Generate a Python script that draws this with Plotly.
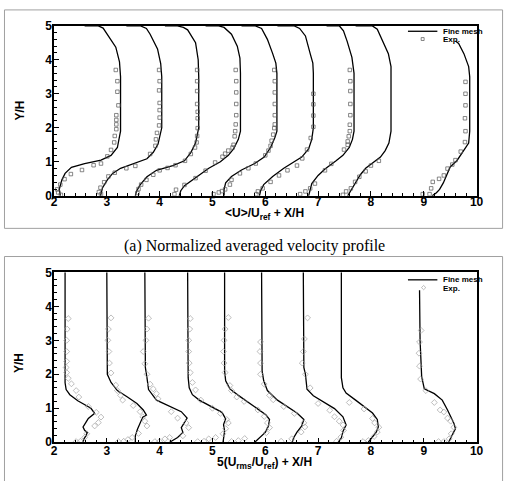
import plotly.graph_objects as go

# ---------------- data: top panel (mean velocity) ----------------
mean_fine_x = [
    [2.58, 2.83, 2.93, 3.01, 3.17, 3.24, 3.26, 3.26, 3.2, 3.08, 2.89, 2.58, 2.33, 2.21, 2.15, 2.1, 2.12],
    [3.37, 3.63, 3.75, 3.82, 3.96, 4.02, 4.04, 4.04, 3.97, 3.88, 3.76, 3.51, 3.26, 3.11, 3.01, 2.92, 2.88],
    [4.1, 4.32, 4.45, 4.53, 4.68, 4.73, 4.74, 4.74, 4.68, 4.59, 4.47, 4.25, 3.94, 3.76, 3.63, 3.56, 3.54],
    [4.87, 5.1, 5.22, 5.36, 5.47, 5.52, 5.53, 5.53, 5.49, 5.4, 5.3, 5.15, 4.93, 4.75, 4.6, 4.47, 4.4, 4.37],
    [5.55, 5.8, 5.93, 6.04, 6.14, 6.2, 6.22, 6.22, 6.18, 6.1, 5.98, 5.8, 5.55, 5.36, 5.25, 5.22, 5.22],
    [6.23, 6.54, 6.65, 6.76, 6.85, 6.9, 6.91, 6.91, 6.88, 6.82, 6.69, 6.54, 6.35, 6.14, 5.97, 5.91, 5.89],
    [7.16, 7.4, 7.48, 7.55, 7.64, 7.68, 7.68, 7.65, 7.59, 7.47, 7.34, 7.13, 7.0, 6.88, 6.82],
    [7.71, 8.02, 8.12, 8.2, 8.33, 8.38, 8.38, 8.34, 8.27, 8.18, 8.02, 7.9, 7.8, 7.68, 7.59, 7.56],
    [9.6, 9.66, 9.76, 9.85, 9.87, 9.87, 9.85, 9.76, 9.63, 9.5, 9.42, 9.37, 9.3, 9.24, 9.16],
]
mean_fine_y = [
    [5, 5, 4.93, 4.75, 4.37, 3.94, 3.5, 1.9, 1.42, 1.19, 1.05, 0.95, 0.84, 0.66, 0.47, 0.19, 0],
    [5, 5, 4.92, 4.75, 4.32, 3.89, 3.5, 2.0, 1.52, 1.28, 1.09, 0.95, 0.81, 0.66, 0.47, 0.24, 0],
    [5, 5, 4.95, 4.88, 4.5, 4.0, 3.5, 2.0, 1.55, 1.27, 1.03, 0.89, 0.75, 0.56, 0.32, 0.13, 0],
    [5, 5, 4.95, 4.75, 4.4, 4.05, 3.6, 1.9, 1.66, 1.38, 1.19, 1.0, 0.81, 0.62, 0.45, 0.3, 0.15, 0],
    [5, 5, 4.92, 4.6, 4.18, 3.9, 3.6, 1.9, 1.71, 1.42, 1.14, 0.95, 0.76, 0.57, 0.38, 0.19, 0],
    [5, 5, 4.92, 4.7, 4.18, 3.9, 3.6, 2.0, 1.66, 1.38, 1.14, 1.0, 0.81, 0.57, 0.33, 0.14, 0],
    [5, 5, 4.85, 4.54, 4.07, 3.6, 1.9, 1.66, 1.42, 1.19, 1.03, 0.79, 0.6, 0.36, 0],
    [5, 5, 4.9, 4.64, 4.18, 3.8, 1.9, 1.55, 1.33, 1.14, 0.95, 0.81, 0.62, 0.33, 0.09, 0],
    [4.55, 4.48, 4.18, 3.8, 3.5, 1.9, 1.55, 1.33, 1.04, 0.85, 0.57, 0.38, 0.19, 0.09, 0],
]
mean_exp_x = [
    [3.17, 3.2, 3.2, 3.22, 3.18, 3.18, 3.18, 3.18, 3.15, 3.14, 3.08, 3.01, 2.89, 2.75, 2.53, 2.32, 2.2, 2.12, 2.06, 2.08, 2.13],
    [3.99, 4.0, 3.99, 4.0, 4.0, 4.0, 3.99, 3.95, 3.93, 3.92, 3.82, 3.54, 3.37, 3.15, 3.03, 2.95, 2.88, 2.85, 2.89],
    [4.71, 4.71, 4.71, 4.71, 4.72, 4.72, 4.72, 4.71, 4.7, 4.67, 4.59, 4.48, 4.3, 4.15, 4.0, 3.88, 3.75, 3.65, 3.6, 3.58],
    [5.44, 5.45, 5.45, 5.45, 5.45, 5.44, 5.43, 5.42, 5.4, 5.38, 5.3, 5.24, 5.19, 5.05, 4.87, 4.68, 4.47, 4.31, 4.28],
    [6.17, 6.18, 6.18, 6.18, 6.18, 6.18, 6.17, 6.15, 6.12, 6.1, 6.06, 6.0, 5.82, 5.68, 5.52, 5.36, 5.33, 5.24, 5.18, 5.12, 5.02],
    [6.91, 6.91, 6.91, 6.91, 6.86, 6.79, 6.7, 6.6, 6.42, 6.26, 6.1, 5.95, 5.86, 5.83],
    [7.6, 7.61, 7.61, 7.61, 7.61, 7.6, 7.6, 7.58, 7.56, 7.56, 7.49, 7.25, 7.13, 6.94, 6.85, 6.76, 6.66],
    [8.15, 8.0, 7.9, 7.78, 7.7, 7.62, 7.53, 7.47],
    [9.79, 9.79, 9.79, 9.78, 9.79, 9.78, 9.7, 9.6, 9.54, 9.45, 9.38, 9.29, 9.17, 9.14, 9.11, 8.98],
]
mean_exp_y = [
    [3.7, 3.37, 3.06, 2.66, 2.37, 2.23, 2.1, 1.96, 1.76, 1.57, 1.35, 1.16, 0.95, 0.9, 0.76, 0.64, 0.49, 0.33, 0.19, 0.1, 0.03],
    [3.7, 3.37, 3.1, 2.73, 2.52, 2.3, 2.07, 1.85, 1.66, 1.47, 1.23, 0.88, 0.81, 0.68, 0.57, 0.4, 0.24, 0.11, 0.05],
    [3.7, 3.37, 3.08, 2.7, 2.47, 2.28, 1.99, 1.76, 1.57, 1.42, 1.23, 1.03, 0.9, 0.82, 0.75, 0.62, 0.47, 0.33, 0.2, 0.08],
    [3.7, 3.37, 3.04, 2.7, 2.37, 2.1, 1.9, 1.75, 1.5, 1.42, 1.33, 1.24, 1.15, 0.98, 0.74, 0.52, 0.32, 0.18, 0.05],
    [3.7, 3.37, 3.04, 2.7, 2.37, 2.1, 1.99, 1.8, 1.62, 1.47, 1.33, 1.19, 0.95, 0.81, 0.66, 0.47, 0.33, 0.19, 0.14, 0.1, 0.05],
    [3.0, 2.69, 2.36, 2.03, 1.7, 1.36, 1.1, 0.89, 0.75, 0.6, 0.41, 0.22, 0.13, 0.05],
    [3.7, 3.37, 3.08, 2.7, 2.37, 2.09, 1.9, 1.75, 1.6, 1.5, 1.36, 0.94, 0.75, 0.36, 0.22, 0.13, 0.05],
    [1.03, 0.89, 0.72, 0.56, 0.41, 0.22, 0.13, 0.03],
    [3.35, 3.0, 2.66, 2.28, 1.9, 1.58, 1.3, 1.05, 0.92, 0.8, 0.6, 0.5, 0.41, 0.22, 0.05, 0.05],
]

# ---------------- data: bottom panel (rms velocity) ----------------
rms_fine_x = [
    [2.21, 2.21, 2.23, 2.3, 2.45, 2.6, 2.7, 2.77, 2.72, 2.65, 2.61, 2.55, 2.58, 2.63, 2.6, 2.56, 2.55],
    [3.0, 3.01, 3.08, 3.2, 3.39, 3.57, 3.69, 3.75, 3.68, 3.63, 3.58, 3.54, 3.54],
    [3.72, 3.73, 3.76, 3.79, 3.94, 4.19, 4.41, 4.52, 4.47, 4.41, 4.44, 4.34, 4.19],
    [4.53, 4.54, 4.56, 4.62, 4.75, 4.99, 5.18, 5.25, 5.21, 5.23, 5.21, 5.2],
    [5.23, 5.23, 5.25, 5.33, 5.49, 5.71, 5.89, 6.01, 6.08, 6.06, 6.0, 5.89, 5.8],
    [5.93, 5.94, 5.97, 6.04, 6.23, 6.42, 6.6, 6.73, 6.69, 6.6, 6.54, 6.51],
    [6.72, 6.73, 6.76, 6.79, 6.91, 7.1, 7.31, 7.47, 7.53, 7.47, 7.44, 7.38],
    [7.44, 7.44, 7.47, 7.53, 7.71, 7.87, 8.03, 8.12, 8.14, 8.1, 8.02, 7.95],
    [8.92, 8.93, 8.96, 9.01, 9.2, 9.35, 9.45, 9.51, 9.57, 9.6, 9.54, 9.5, 9.47],
]
rms_fine_y = [
    [5, 1.75, 1.55, 1.4, 1.22, 1.1, 1.0, 0.85, 0.78, 0.7, 0.6, 0.45, 0.35, 0.28, 0.18, 0.08, 0],
    [5, 2.0, 1.76, 1.52, 1.33, 1.14, 0.95, 0.8, 0.74, 0.57, 0.38, 0.19, 0],
    [5, 2.2, 1.9, 1.55, 1.24, 1.05, 0.9, 0.71, 0.57, 0.43, 0.29, 0.14, 0],
    [5, 1.9, 1.6, 1.4, 1.24, 1.05, 0.88, 0.69, 0.52, 0.33, 0.14, 0],
    [5, 2.1, 1.81, 1.57, 1.38, 1.14, 0.95, 0.81, 0.67, 0.48, 0.29, 0.14, 0],
    [5, 2.1, 1.81, 1.52, 1.24, 1.05, 0.86, 0.67, 0.48, 0.3, 0.14, 0],
    [5, 2.2, 2.0, 1.56, 1.37, 1.18, 0.99, 0.75, 0.51, 0.32, 0.13, 0],
    [5, 1.9, 1.6, 1.45, 1.24, 1.05, 0.86, 0.67, 0.45, 0.3, 0.14, 0],
    [4.47, 3.0, 1.94, 1.57, 1.43, 1.24, 0.95, 0.75, 0.56, 0.4, 0.2, 0.07, 0],
]
rms_exp_x = [
    [2.27, 2.25, 2.24, 2.24, 2.24, 2.23, 2.24, 2.27, 2.33, 2.42, 2.47, 2.65, 2.8, 2.89, 2.84, 2.77, 2.62, 2.58, 2.5, 2.42],
    [3.08, 3.03, 3.02, 3.04, 3.05, 3.08, 3.17, 3.2, 3.26, 3.3, 3.5, 3.63, 3.68, 3.72, 3.76, 3.6, 3.48, 3.4, 3.32, 3.22],
    [3.79, 3.76, 3.74, 3.69, 3.72, 3.76, 3.82, 3.88, 3.94, 3.97, 4.22, 4.34, 4.5, 4.55, 4.44, 4.19, 4.1, 4.0, 3.91],
    [4.58, 4.57, 4.55, 4.55, 4.56, 4.58, 4.62, 4.68, 4.78, 5.0, 5.15, 5.27, 5.3, 5.25, 5.2, 5.06, 4.93, 4.84, 4.72],
    [5.3, 5.24, 5.22, 5.21, 5.22, 5.24, 5.33, 5.36, 5.46, 5.6, 5.86, 5.98, 6.04, 6.08, 6.02, 5.61, 5.49, 5.36],
    [5.91, 5.9, 5.91, 5.91, 5.98, 6.08, 6.15, 6.35, 6.55, 6.73, 6.75, 6.68, 6.5, 6.3],
    [6.8, 6.74, 6.72, 6.7, 6.76, 6.85, 7.0, 7.22, 7.31, 7.4, 7.47, 7.48, 7.43, 7.35],
    [7.59, 7.87, 8.03, 8.07, 8.15, 8.12, 8.06, 7.95, 7.85],
    [8.95, 8.92, 8.91, 8.92, 8.94, 9.04, 9.2, 9.31, 9.38, 9.45, 9.51, 9.57, 9.52, 9.48, 9.38, 9.28],
]
rms_exp_y = [
    [3.64, 3.33, 3.0, 2.67, 2.38, 2.2, 2.05, 1.88, 1.72, 1.52, 1.33, 1.05, 0.88, 0.74, 0.58, 0.48, 0.25, 0.14, 0.03, 0.02],
    [3.66, 3.33, 3.0, 2.67, 2.33, 2.04, 1.68, 1.52, 1.38, 1.24, 1.08, 0.9, 0.75, 0.62, 0.48, 0.26, 0.14, 0.08, 0.03, 0.02],
    [3.65, 3.33, 3.0, 2.67, 2.31, 2.0, 1.71, 1.57, 1.43, 1.28, 0.9, 0.71, 0.57, 0.43, 0.19, 0.14, 0.1, 0.03, 0.02],
    [3.64, 3.33, 3.0, 2.67, 2.33, 2.05, 1.76, 1.54, 1.24, 1.0, 0.85, 0.67, 0.57, 0.4, 0.25, 0.14, 0.1, 0.03, 0.02],
    [3.67, 3.33, 3.0, 2.67, 2.33, 2.05, 1.67, 1.52, 1.33, 1.2, 0.95, 0.76, 0.57, 0.43, 0.28, 0.11, 0.05, 0.02],
    [2.95, 2.67, 2.33, 2.0, 1.71, 1.38, 1.25, 1.05, 0.85, 0.57, 0.45, 0.3, 0.1, 0.03],
    [3.66, 3.04, 2.67, 2.33, 2.0, 1.6, 1.14, 0.94, 0.75, 0.62, 0.51, 0.35, 0.15, 0.03],
    [1.17, 0.98, 0.7, 0.57, 0.44, 0.3, 0.17, 0.05, 0.02],
    [3.29, 2.95, 2.62, 2.24, 1.86, 1.52, 1.17, 0.95, 0.89, 0.71, 0.62, 0.44, 0.25, 0.1, 0.02, 0.02],
]

x_ticks = [2, 3, 4, 5, 6, 7, 8, 9, 10]
y_ticks = [0, 1, 2, 3, 4, 5]
top_xtitle = "&lt;U&gt;/U<sub>ref</sub> + X/H"
bot_xtitle = "5(U<sub>rms</sub>/U<sub>ref</sub>) + X/H"
ytitle = "Y/H"
caption = "(a) Normalized averaged velocity profile"
legend_line_label = "Fine mesh"
legend_exp_label = "Exp."

# ---------------- figure ----------------
W, H = 513, 481
def px(x):
    return x / W
def py(y):
    return 1 - y / H

fig = go.Figure()

for xs, ys in zip(mean_fine_x, mean_fine_y):
    fig.add_trace(go.Scatter(x=xs, y=ys, mode="lines", line=dict(color="black", width=1.3),
                             xaxis="x", yaxis="y", showlegend=False, hoverinfo="skip"))
for xs, ys in zip(mean_exp_x, mean_exp_y):
    fig.add_trace(go.Scatter(x=xs, y=ys, mode="markers",
                             marker=dict(symbol="square-open", size=3.5, color="#555555", line=dict(width=0.7)),
                             xaxis="x", yaxis="y", showlegend=False, hoverinfo="skip"))
for xs, ys in zip(rms_fine_x, rms_fine_y):
    fig.add_trace(go.Scatter(x=xs, y=ys, mode="lines", line=dict(color="black", width=1.3),
                             xaxis="x2", yaxis="y2", showlegend=False, hoverinfo="skip"))
for xs, ys in zip(rms_exp_x, rms_exp_y):
    fig.add_trace(go.Scatter(x=xs, y=ys, mode="markers",
                             marker=dict(symbol="diamond-open", size=4.5, color="#a0a0a0", line=dict(width=0.7)),
                             xaxis="x2", yaxis="y2", showlegend=False, hoverinfo="skip"))

tickfont = dict(family="Liberation Sans", size=12, color="black", weight="bold")
axis_common = dict(showline=True, linecolor="black", linewidth=1.5, mirror=True,
                   ticks="inside", ticklen=5, tickwidth=1.2, tickcolor="black",
                   showgrid=False, zeroline=False, tickfont=tickfont,
                   minor=dict(ticks="inside", ticklen=3, tickwidth=0.8, tickcolor="black", dtick=0.2, showgrid=False))

xdom = [px(52), px(483)]
fig.update_layout(
    width=W, height=H, margin=dict(l=0, r=0, t=0, b=0),
    paper_bgcolor="white", plot_bgcolor="white",
    xaxis=dict(domain=xdom, range=[2, 10], tickvals=x_ticks, anchor="y", ticklabelstandoff=-6, **axis_common),
    yaxis=dict(domain=[py(194.5), py(19.3)], range=[0, 5], tickvals=y_ticks, anchor="x", ticklabelstandoff=-2, **axis_common),
    xaxis2=dict(domain=xdom, range=[2, 10], tickvals=x_ticks, anchor="y2", ticklabelstandoff=-3, **axis_common),
    yaxis2=dict(domain=[py(448.3), py(273.3)], range=[0, 5], tickvals=y_ticks, anchor="x2", ticklabelstandoff=-2, **axis_common),
)

titlefont = dict(family="Liberation Sans", size=12, color="black", weight="bold")
ann = []
def add_text(text, x, y, font, **kw):
    d = dict(text=text, x=px(x), y=py(y), xref="paper", yref="paper", showarrow=False,
             xanchor=kw.pop("xanchor", "center"), yanchor="middle", font=font)
    d.update(kw)
    ann.append(d)

add_text(ytitle, 17, 107, titlefont, textangle=-90)
add_text(ytitle, 17, 367, titlefont, textangle=-90)
add_text(top_xtitle, 267, 213, titlefont)
add_text(bot_xtitle, 267, 470, titlefont)
add_text(caption, 256, 246, dict(family="Liberation Serif", size=16, color="black"))

legfont = dict(family="Liberation Sans", size=8, color="black", weight="bold")
shapes = []
for ly in (25, 281):
    add_text(legend_line_label, 447, ly, legfont, xanchor="left")
    add_text(legend_exp_label, 447, ly + 8.5, legfont, xanchor="left")
    shapes.append(dict(type="line", xref="paper", yref="paper", x0=px(413), x1=px(443),
                       y0=py(ly), y1=py(ly), line=dict(color="black", width=1.3)))
# legend symbols for Exp.
shapes.append(dict(type="rect", xref="paper", yref="paper", x0=px(426.5), x1=px(429.5),
                   y0=py(34.5), y1=py(31.5), line=dict(color="#555555", width=0.7)))
shapes.append(dict(type="path", xref="paper", yref="paper",
                   path=f"M {px(429)},{py(286.8)} L {px(431.2)},{py(289)} L {px(429)},{py(291.2)} L {px(426.8)},{py(289)} Z",
                   line=dict(color="#a0a0a0", width=0.7)))
# panel frames
shapes.append(dict(type="rect", xref="paper", yref="paper", x0=px(1.5), x1=px(509.5), y0=py(228), y1=py(3),
                   line=dict(color="#a0a0a0", width=1)))
shapes.append(dict(type="rect", xref="paper", yref="paper", x0=px(1.5), x1=px(509.5), y0=py(490), y1=py(257),
                   line=dict(color="#a0a0a0", width=1)))

fig.update_layout(annotations=ann, shapes=shapes)
fig.write_html("out.html")
